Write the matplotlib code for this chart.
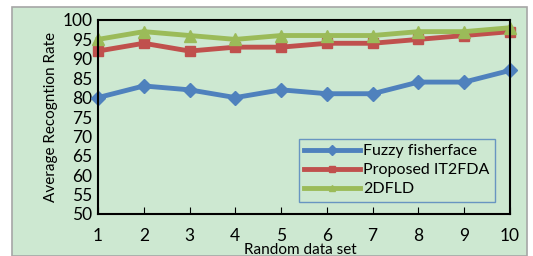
import matplotlib.pyplot as plt
from matplotlib.patches import Rectangle

plt.rcParams['font.family'] = ['Lato', 'DejaVu Sans']

data_sets = [1, 2, 3, 4, 5, 6, 7, 8, 9, 10]
fuzzy = [80, 83, 82, 80, 82, 81, 81, 84, 84, 87]
it2fda = [92, 94, 92, 93, 93, 94, 94, 95, 96, 97]
dfld = [95, 97, 96, 95, 96, 96, 96, 97, 97, 98]
y_ticks = list(range(50, 101, 5))

bg = '#cde8d1'
fig = plt.figure(figsize=(5.33, 2.56), dpi=100)
fig.patch.set_facecolor('white')
fig.patches.append(Rectangle((12 / 533, 0), 515 / 533, 249 / 256, transform=fig.transFigure,
                             facecolor=bg, edgecolor='#a6a6a6', linewidth=1.2, zorder=-1))

ax = fig.add_axes([98 / 533, 42 / 256, 412 / 533, 194 / 256])
ax.set_facecolor(bg)

ax.plot(data_sets, fuzzy, color='#4f81bd', lw=3.5, marker='D', ms=7, label='Fuzzy fisherface', clip_on=False)
ax.plot(data_sets, it2fda, color='#c0504d', lw=3.5, marker='s', ms=7, label='Proposed IT2FDA', clip_on=False)
ax.plot(data_sets, dfld, color='#9bbb59', lw=3.5, marker='^', ms=8, label='2DFLD', clip_on=False)

ax.set_xlim(1, 10)
ax.set_ylim(50, 100)
ax.set_xticks(data_sets)
ax.set_yticks(y_ticks)
ax.tick_params(axis='x', direction='in', length=5, pad=10, labelsize=12.5)
ax.tick_params(axis='y', direction='out', length=0, pad=4, labelsize=12.5)
for s in ax.spines.values():
    s.set_linewidth(1.5)

ax.set_ylabel('Average Recogntion Rate', fontsize=11, labelpad=3)
ax.set_xlabel('Random data set', fontsize=11)
ax.xaxis.set_label_coords(0.49, -0.148)

leg = ax.legend(loc='lower right', bbox_to_anchor=(0.963, 0.062), fontsize=11.5, frameon=True,
                fancybox=False, handlelength=3.5, handletextpad=0.15, labelspacing=0.3,
                borderpad=0.35, borderaxespad=0)
leg.get_frame().set_edgecolor('#4f81bd')
leg.get_frame().set_facecolor(bg)
leg.get_frame().set_linewidth(1)
for h in leg.legend_handles:
    h.set_markersize(5)

fig.savefig('out.png', dpi=100, facecolor='white')
